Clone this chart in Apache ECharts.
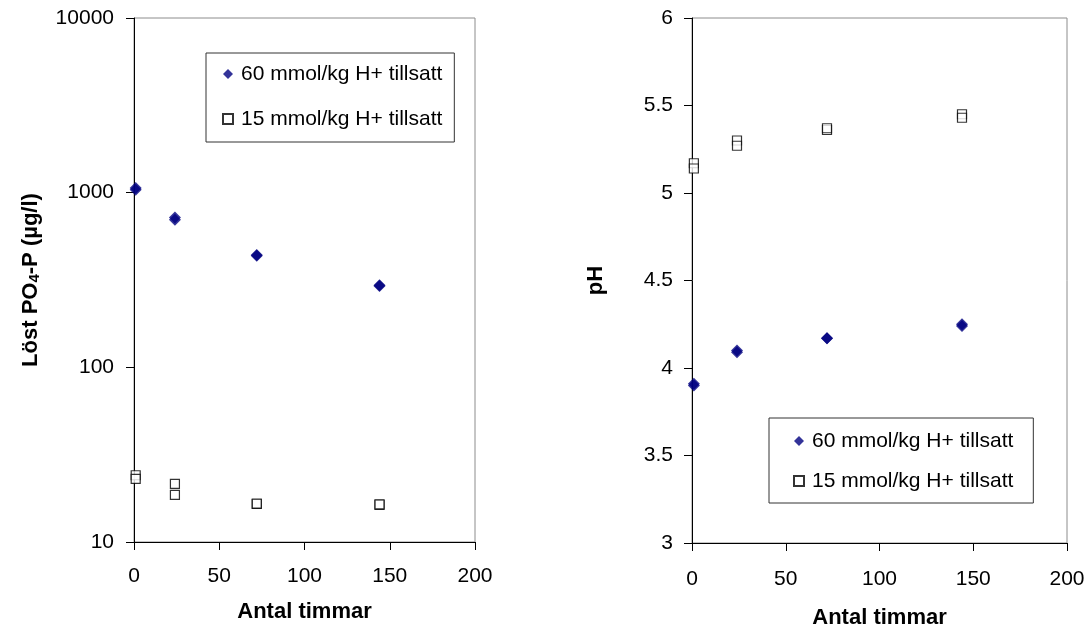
<!DOCTYPE html>
<html>
<head>
<meta charset="utf-8">
<script src="https://cdn.jsdelivr.net/npm/echarts@6/dist/echarts.min.js"></script>
<style>
html,body{margin:0;padding:0;background:#fff;}
#c{width:1091px;height:636px;}
</style>
</head>
<body>
<div id="c"></div>
<script>
// ---- data ----
const hours = [1, 1, 24, 24, 72, 72, 144, 144];
const po4_60 = [1040, 1065, 700, 720, 440, 435, 295, 292];
const po4_15 = [24.1, 23.0, 21.5, 18.6, 16.5, 16.6, 16.3, 16.4];
const ph_60 = [3.90, 3.91, 4.09, 4.10, 4.17, 4.17, 4.24, 4.25];
const ph_15 = [5.17, 5.14, 5.30, 5.27, 5.36, 5.37, 5.45, 5.43];
const seriesNames = ['60 mmol/kg H+ tillsatt', '15 mmol/kg H+ tillsatt'];
const xName = 'Antal timmar';
const yNameLeft = ['Löst PO', '4', '-P (µg/l)'];
const yNameRight = 'pH';

const pairs = (xs, ys) => xs.map((x, i) => [x, ys[i]]);
const FONT = 'Liberation Sans, Arial, sans-serif';
const TICK_FS = 21, NAME_FS = 22, LEG_FS = 21;

const diamondStyle = { color: '#000080' };
const squareStyle = { color: '#ffffff', borderColor: '#000000', borderWidth: 1.2 };

function xAxisCfg(gridIndex, labelMargin, nameGap) {
  return {
    gridIndex, type: 'value', min: 0, max: 200, interval: 50,
    name: xName, nameLocation: 'middle', nameGap,
    nameTextStyle: { fontFamily: FONT, fontSize: NAME_FS, fontWeight: 'bold', color: '#000' },
    axisLine: { show: true, onZero: false, lineStyle: { color: '#000', width: 1 } },
    axisTick: { show: true, inside: false, length: 8, lineStyle: { color: '#000' } },
    axisLabel: { fontFamily: FONT, fontSize: TICK_FS, color: '#000', margin: labelMargin },
    splitLine: { show: false }
  };
}

const option = {
  animation: false,
  backgroundColor: '#fff',
  grid: [
    { left: 134, top: 18, width: 341, height: 524, show: true, borderColor: '#8c8c8c', borderWidth: 1, backgroundColor: 'transparent' },
    { left: 692, top: 18, width: 375, height: 525, show: true, borderColor: '#8c8c8c', borderWidth: 1, backgroundColor: 'transparent' }
  ],
  xAxis: [xAxisCfg(0, 24, 59), xAxisCfg(1, 26, 64)],
  yAxis: [
    {
      gridIndex: 0, type: 'log', logBase: 10, min: 10, max: 10000,
      name: '{a|' + yNameLeft[0] + '}{s|' + yNameLeft[1] + '}{a|' + yNameLeft[2] + '}',
      nameLocation: 'middle', nameGap: 92,
      nameTextStyle: {
        fontFamily: FONT, fontSize: NAME_FS, fontWeight: 'bold', color: '#000',
        rich: {
          a: { fontFamily: FONT, fontSize: NAME_FS, fontWeight: 'bold', color: '#000' },
          s: { fontFamily: FONT, fontSize: 15, fontWeight: 'bold', color: '#000', verticalAlign: 'bottom', padding: [8, 0, 0, 0] }
        }
      },
      axisLine: { show: true, onZero: false, lineStyle: { color: '#000', width: 1 } },
      axisTick: { show: true, inside: false, length: 8, lineStyle: { color: '#000' } },
      minorTick: { show: false },
      axisLabel: { fontFamily: FONT, fontSize: TICK_FS, color: '#000', margin: 20, formatter: v => String(v) },
      splitLine: { show: false }
    },
    {
      gridIndex: 1, type: 'value', min: 3, max: 6, interval: 0.5,
      name: yNameRight, nameLocation: 'middle', nameGap: 85,
      nameTextStyle: { fontFamily: FONT, fontSize: NAME_FS, fontWeight: 'bold', color: '#000' },
      axisLine: { show: true, onZero: false, lineStyle: { color: '#000', width: 1 } },
      axisTick: { show: true, inside: false, length: 8, lineStyle: { color: '#000' } },
      axisLabel: { fontFamily: FONT, fontSize: TICK_FS, color: '#000', margin: 19 },
      splitLine: { show: false }
    }
  ],
  legend: [
    {
      orient: 'vertical', left: 206, top: 53,
      data: seriesNames,
      borderColor: '#333', borderWidth: 1,
      padding: [9, 12, 11, 16],
      itemGap: 21, itemWidth: 10, itemHeight: 10,
      textStyle: { fontFamily: FONT, fontSize: LEG_FS, color: '#000', lineHeight: 24, padding: [0, 0, 0, 3] },
      selectedMode: false
    },
    {
      orient: 'vertical', left: 769, top: 418,
      data: seriesNames,
      borderColor: '#333', borderWidth: 1,
      padding: [11, 20, 10, 24],
      itemGap: 16, itemWidth: 10, itemHeight: 10,
      textStyle: { fontFamily: FONT, fontSize: LEG_FS, color: '#000', lineHeight: 24, padding: [0, 0, 0, 3] },
      selectedMode: false
    }
  ],
  series: [
    { name: seriesNames[0], type: 'scatter', xAxisIndex: 0, yAxisIndex: 0, symbol: 'diamond', symbolSize: 12, itemStyle: diamondStyle, data: pairs(hours, po4_60) },
    { name: seriesNames[1], type: 'scatter', xAxisIndex: 0, yAxisIndex: 0, symbol: 'rect', symbolSize: 9, itemStyle: squareStyle, data: pairs(hours, po4_15) },
    { name: seriesNames[0], type: 'scatter', xAxisIndex: 1, yAxisIndex: 1, symbol: 'diamond', symbolSize: 12, itemStyle: diamondStyle, data: pairs(hours, ph_60) },
    { name: seriesNames[1], type: 'scatter', xAxisIndex: 1, yAxisIndex: 1, symbol: 'rect', symbolSize: 9, itemStyle: squareStyle, data: pairs(hours, ph_15) }
  ]
};

const chart = echarts.init(document.getElementById('c'), null, { renderer: 'canvas' });
chart.setOption(option);
</script>
</body>
</html>
